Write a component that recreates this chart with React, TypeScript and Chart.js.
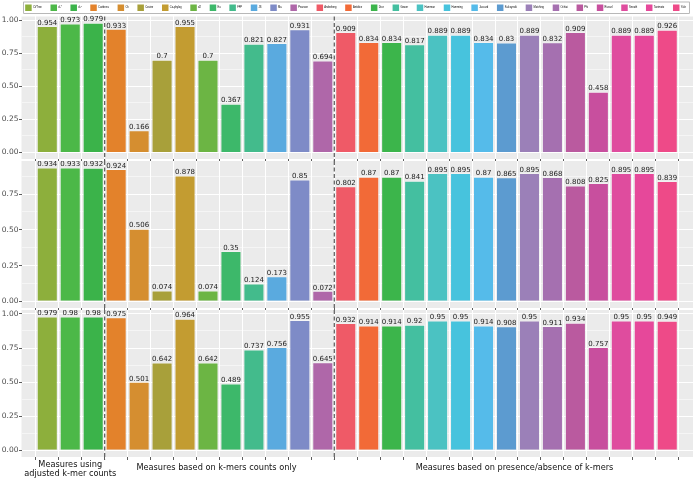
import React, { useEffect, useRef } from 'react';
import { Chart, registerables } from 'chart.js';

Chart.register(...registerables);

const categories = ['CVTree', 'd₂*', 'd₂ˢ', 'Canberra', 'Ch', 'Cosine', 'Co-phylog', 'd2', 'Eu', 'FFP', 'JS', 'Ma', 'Pearson',
  'Anderberg', 'Antidice', 'Dice', 'Gower', 'Hamman', 'Hamming', 'Jaccard', 'Kulczynski', 'Matching', 'Ochiai', 'Phi',
  'Russel', 'Sneath', 'Tanimoto', 'Yule'];

const colors = ['#8DAF3C', '#4CB848', '#3BB34A', '#E3822B', '#D58E30', '#A8A03A', '#C39C31', '#6CB544', '#3DB86A',
  '#43BB8C', '#5AAADF', '#7E8BC7', '#AF67A9', '#EF5A67', '#F26A37', '#3CB54B', '#44BFA0', '#4BC2C2', '#47C3DD',
  '#55BBEA', '#5C9BD0', '#9B80B8', '#A570B0', '#BA5A9F', '#C84F9E', '#DF4C9E', '#E6489A', '#EE4A88'];

const row1 = [0.954, 0.973, 0.979, 0.933, 0.166, 0.7, 0.955, 0.7, 0.367, 0.821, 0.827, 0.931, 0.694,
  0.909, 0.834, 0.834, 0.817, 0.889, 0.889, 0.834, 0.83, 0.889, 0.832, 0.909, 0.458, 0.889, 0.889, 0.926];
const row2 = [0.934, 0.933, 0.932, 0.924, 0.506, 0.074, 0.878, 0.074, 0.35, 0.124, 0.173, 0.85, 0.072,
  0.802, 0.87, 0.87, 0.841, 0.895, 0.895, 0.87, 0.865, 0.895, 0.868, 0.808, 0.825, 0.895, 0.895, 0.839];
const row3 = [0.979, 0.98, 0.98, 0.975, 0.501, 0.642, 0.964, 0.642, 0.489, 0.737, 0.756, 0.955, 0.645,
  0.932, 0.914, 0.914, 0.92, 0.95, 0.95, 0.914, 0.908, 0.95, 0.911, 0.934, 0.757, 0.95, 0.95, 0.949];

const groupTitles = [['Measures using', 'adjusted k-mer counts'], ['Measures based on k-mers counts only'],
  ['Measures based on presence/absence of k-mers']];
const groupRanges = [[1, 3], [4, 13], [14, 28]];
const titleNudge = [0, -3, 8];
const dividers = [3.5, 13.5];
const yStep = 0.125;

const W = 697;
const PANEL_BG = '#EBEBEB';
const FONT = 'DejaVu Sans';
const LEGEND_PAD = 8.7;
const LEGEND_ITEM_TOP = 4.5; // page y of legend keys
const LEGEND_SHIFT_X = 9;

type Spec = {
  values: number[]; pageTop: number; canvasHeight: number; panelTopPage: number;
  axisHeight: number; legend: boolean; titles: boolean;
};

const specs: Spec[] = [
  { values: row1, pageTop: -12, canvasHeight: 174, panelTopPage: 16.5, axisHeight: 3, legend: true, titles: false },
  { values: row2, pageTop: 161, canvasHeight: 150, panelTopPage: 161, axisHeight: 3, legend: false, titles: false },
  { values: row3, pageTop: 310, canvasHeight: 170, panelTopPage: 310, axisHeight: 23, legend: false, titles: true },
];

const isMajor = (v: number) => Math.abs(v / 0.25 - Math.round(v / 0.25)) < 1e-6;

function makeChart(canvas: HTMLCanvasElement, s: Spec) {
  const maxV = Math.max(...s.values);
  const lo = -0.05 * maxV;
  const hi = 1.05 * maxV;

  const overlay = {
    id: 'overlay',
    afterLayout(chart: any) {
      if (s.legend && chart.legend) {
        const lg = chart.legend;
        const dy = (LEGEND_ITEM_TOP - s.pageTop - LEGEND_PAD) - lg.top;
        lg.top += dy; lg.bottom += dy;
        lg.left += LEGEND_SHIFT_X; lg.right += LEGEND_SHIFT_X;
      }
    },
    beforeDraw(chart: any) {
      const { ctx, chartArea } = chart;
      const y = chart.scales.y;
      const top = y.getPixelForValue(hi);
      ctx.save();
      ctx.fillStyle = PANEL_BG;
      ctx.fillRect(chartArea.left, top, chartArea.right - chartArea.left, chartArea.bottom - top);
      ctx.restore();
    },
    afterDatasetsDraw(chart: any) {
      const { ctx, chartArea } = chart;
      const x = chart.scales.x;
      const y = chart.scales.y;
      const top = y.getPixelForValue(hi);
      ctx.save();
      ctx.strokeStyle = '#5a5a5a';
      ctx.lineWidth = 1.2;
      ctx.setLineDash([4, 2.5]);
      dividers.forEach((d) => {
        const px = x.getPixelForValue(d);
        ctx.beginPath();
        ctx.moveTo(px, top);
        ctx.lineTo(px, chartArea.bottom + 3);
        ctx.stroke();
      });
      ctx.setLineDash([]);
      const meta = chart.getDatasetMeta(0);
      ctx.fillStyle = '#1a1a1a';
      ctx.font = `7px "${FONT}"`;
      ctx.textAlign = 'center';
      ctx.textBaseline = 'alphabetic';
      meta.data.forEach((bar: any, i: number) => {
        ctx.fillText(String(s.values[i]), bar.x, bar.y - 1.5);
      });
      if (s.titles) {
        ctx.fillStyle = '#111';
        ctx.font = `8.2px "${FONT}"`;
        ctx.textBaseline = 'middle';
        groupTitles.forEach((lines, gi) => {
          const [a, b] = groupRanges[gi];
          const cx = (x.getPixelForValue(a) + x.getPixelForValue(b)) / 2 + titleNudge[gi];
          const baseY = chartArea.bottom + (lines.length > 1 ? 7.5 : 10.5);
          lines.forEach((t, li) => ctx.fillText(t, cx, baseY + li * 9));
        });
      }
      if (s.legend && chart.legend && chart.legend.legendHitBoxes && chart.legend.legendHitBoxes.length) {
        const hb = chart.legend.legendHitBoxes;
        const first = hb[0];
        const last = hb[hb.length - 1];
        const l = first.left - 1.5;
        const r = last.left + last.width + 3.5;
        const t = first.top - 2.5;
        const b = first.top + first.height + 2.5;
        ctx.fillStyle = '#ffffff';
        ctx.fillRect(l, t, r - l, b - t);
        ctx.strokeStyle = '#9a9a9a';
        ctx.lineWidth = 0.7;
        ctx.strokeRect(l, t, r - l, b - t);
        ctx.restore();
        chart.legend.draw();
        return;
      }
      ctx.restore();
    },
  };

  const chart = new Chart(canvas, {
    type: 'bar',
    data: {
      datasets: [{
        data: s.values.map((v, i) => ({ x: i + 1, y: v })),
        backgroundColor: colors,
        borderColor: 'rgba(255,255,255,0.55)',
        borderWidth: 0.8,
        categoryPercentage: 0.9,
        barPercentage: 1,
        grouped: false,
      } as any],
    },
    options: {
      responsive: false,
      animation: false,
      events: [],
      devicePixelRatio: 1,
      layout: { padding: { top: 0, left: 0, right: W - 693, bottom: 0 } },
      plugins: {
        tooltip: { enabled: false },
        legend: {
          display: s.legend,
          position: 'top',
          align: 'center',
          labels: {
            boxWidth: 6.5,
            boxHeight: 6.5,
            padding: LEGEND_PAD,
            color: '#222',
            font: { size: 2.6, family: 'Liberation Sans' },
            generateLabels: () => categories.map((c, i) => ({
              text: c, fillStyle: colors[i], strokeStyle: colors[i], lineWidth: 0, hidden: false, index: i, datasetIndex: 0,
            })) as any,
          },
        },
      },
      scales: {
        x: {
          type: 'linear',
          min: 0.4,
          max: 28.6,
          ticks: { display: false, stepSize: 1, includeBounds: false, autoSkip: false },
          grid: { color: '#ffffff', lineWidth: 1, drawTicks: true, tickLength: 3, tickColor: '#333333', tickWidth: 0.8 } as any,
          border: { display: false },
          afterFit: (sc: any) => { sc.height = s.axisHeight; sc.paddingLeft = 0; sc.paddingRight = 0; },
        },
        y: {
          type: 'linear',
          min: lo,
          max: hi,
          afterBuildTicks: (sc: any) => { sc.ticks = sc.ticks.filter((t: any) => t.value >= -1e-9 && t.value <= hi + 1e-9); },
          ticks: {
            stepSize: yStep,
            includeBounds: false,
            autoSkip: false,
            padding: 0.5,
            color: '#4d4d4d',
            font: { size: 7.5, family: FONT },
            callback: (v: any) => (isMajor(Number(v)) ? Number(v).toFixed(2) : ''),
          },
          grid: {
            color: '#ffffff',
            lineWidth: (c: any) => (c.tick && isMajor(c.tick.value) ? 1 : 0.5),
            tickLength: 2.5,
            tickColor: (c: any) => (c.tick && isMajor(c.tick.value) ? '#333333' : 'rgba(0,0,0,0)'),
            tickWidth: 0.8,
          } as any,
          border: { display: false },
          afterFit: (sc: any) => { sc.width = 21.5; sc.paddingTop = 0; sc.paddingBottom = 0; },
        },
      },
    },
    plugins: [overlay],
  } as any);

  // stretch the value axis so that the panel [lo, hi] spans panelTopPage .. chart area bottom
  const area = chart.chartArea;
  const areaTopPage = s.pageTop + area.top;
  const areaBottomPage = s.pageTop + area.bottom;
  const unit = (areaBottomPage - s.panelTopPage) / (hi - lo);
  (chart.options.scales as any).y.max = hi + (s.panelTopPage - areaTopPage) / unit;
  chart.update();
  return chart;
}

export default function App() {
  const r0 = useRef<HTMLCanvasElement>(null);
  const r1 = useRef<HTMLCanvasElement>(null);
  const r2 = useRef<HTMLCanvasElement>(null);
  const refs = [r0, r1, r2];

  useEffect(() => {
    document.body.style.margin = '0';
    const charts = specs.map((s, i) => makeChart(refs[i].current as HTMLCanvasElement, s));
    return () => charts.forEach((c) => c.destroy());
  }, []);

  return (
    <div style={{ position: 'relative', width: W, height: 480, overflow: 'hidden', background: '#fff' }}>
      {specs.map((s, i) => (
        <canvas
          key={i}
          ref={refs[i]}
          width={W}
          height={s.canvasHeight}
          style={{ position: 'absolute', left: 0, top: s.pageTop, width: W, height: s.canvasHeight }}
        />
      ))}
    </div>
  );
}
